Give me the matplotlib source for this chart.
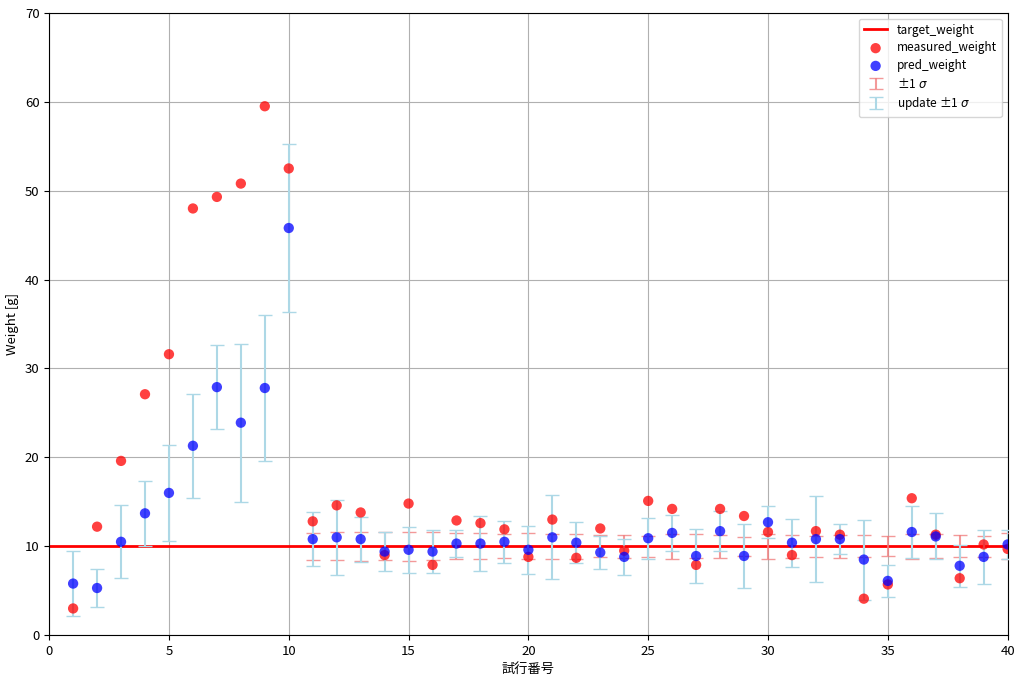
import matplotlib
matplotlib.use("Agg")
import matplotlib.pyplot as plt
import numpy as np

plt.rcParams['font.family'] = ['Noto Sans CJK JP', 'DejaVu Sans']

target_weight = 10.0

trials = np.arange(1, 41)

measured_weight = [3.0, 12.2, 19.6, 27.1, 31.6, 48.0, 49.3, 50.8, 59.5, 52.5,
                   12.8, 14.6, 13.8, 9.0, 14.8, 7.9, 12.9, 12.6, 11.9, 8.8,
                   13.0, 8.7, 12.0, 9.5, 15.1, 14.2, 7.9, 14.2, 13.4, 11.6,
                   9.0, 11.7, 11.3, 4.1, 5.7, 15.4, 11.3, 6.4, 10.2, 9.7]

pred_weight = [5.8, 5.3, 10.5, 13.7, 16.0, 21.3, 27.9, 23.9, 27.8, 45.8,
               10.8, 11.0, 10.8, 9.4, 9.6, 9.4, 10.3, 10.3, 10.5, 9.6,
               11.0, 10.4, 9.3, 8.8, 10.9, 11.5, 8.9, 11.7, 8.9, 12.7,
               10.4, 10.8, 10.8, 8.5, 6.1, 11.6, 11.1, 7.8, 8.8, 10.2]

update_sigma = [3.65, 2.1, 4.1, 3.67, 5.36, 5.82, 4.76, 8.9, 8.2, 9.5,
                3.07, 4.2, 2.53, 2.21, 2.59, 2.44, 1.56, 3.13, 2.36, 2.72,
                4.71, 2.33, 1.82, 2.03, 2.31, 2.06, 3.02, 2.27, 3.63, 1.78,
                2.7, 4.84, 1.67, 4.5, 1.76, 2.9, 2.59, 2.38, 3.06, 1.65]

# measurement sigma shown around the target from trial 11 on
meas_trials = np.arange(11, 41)
meas_sigma = [1.5, 1.6, 1.65, 1.6, 1.65, 1.56, 1.46, 1.44, 1.37, 1.46,
              1.43, 1.39, 1.26, 1.32, 1.2, 1.39, 1.37, 1.3, 1.09, 1.41,
              1.28, 1.2, 1.3, 1.22, 1.1, 1.4, 1.35, 1.24, 1.16, 1.47]

fig, ax = plt.subplots(figsize=(10.24, 6.8), dpi=100)
fig.subplots_adjust(left=0.048, right=0.984, top=0.981, bottom=0.066)

ax.axhline(target_weight, color='red', lw=2, label='target_weight', zorder=2)

ax.errorbar(meas_trials, np.full(len(meas_trials), target_weight), yerr=meas_sigma,
            fmt='none', ecolor='lightcoral', elinewidth=1.5, capsize=5,
            alpha=0.8, label='±1 $\\sigma$', zorder=3)
ax.errorbar(trials, pred_weight, yerr=update_sigma, fmt='none',
            ecolor='lightblue', elinewidth=1.5, capsize=5,
            label='update ±1 $\\sigma$', zorder=3)

ax.scatter(trials, measured_weight, color='red', alpha=0.75, s=55,
           label='measured_weight', zorder=4, edgecolors='none')
ax.scatter(trials, pred_weight, color='blue', alpha=0.75, s=55,
           label='pred_weight', zorder=5, edgecolors='none')

ax.set_xlim(0, 40)
ax.set_ylim(0, 70)
ax.set_xlabel('試行番号', fontsize=9.5)
ax.set_ylabel('Weight [g]', fontsize=9.5)
ax.tick_params(labelsize=9.5)
ax.grid(True, color='#b0b0b0', lw=0.8)
ax.set_axisbelow(True)

h, l = ax.get_legend_handles_labels()
order = ['target_weight', 'measured_weight', 'pred_weight', '±1 $\\sigma$', 'update ±1 $\\sigma$']
idx = [l.index(o) for o in order]
ax.legend([h[i] for i in idx], [l[i] for i in idx], loc='upper right',
          fontsize=8.5, labelspacing=0.4)

plt.savefig('out.png', dpi=100)
